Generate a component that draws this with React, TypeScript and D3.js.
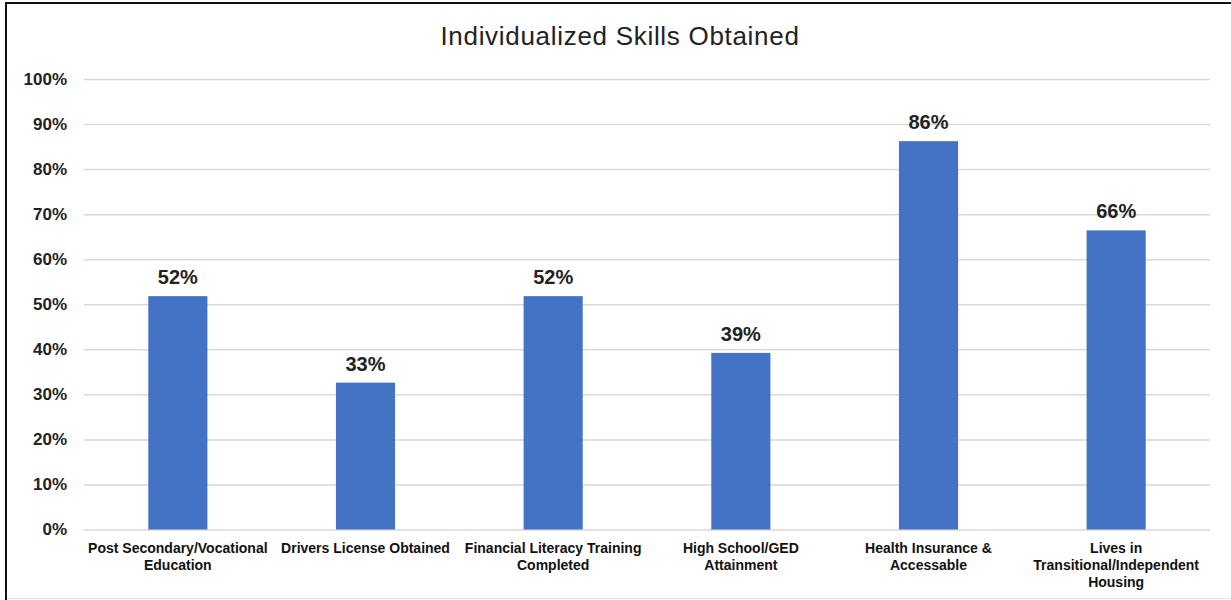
import * as d3 from "d3";
import React, { useEffect, useRef } from "react";

const categories = [
  ["Post Secondary/Vocational", "Education"],
  ["Drivers License Obtained"],
  ["Financial Literacy  Training", "Completed"],
  ["High School/GED", "Attainment"],
  ["Health Insurance &", "Accessable"],
  ["Lives in", "Transitional/Independent", "Housing"],
];
const values = [0.518, 0.326, 0.518, 0.392, 0.862, 0.664];
const yTicks = [0, 0.1, 0.2, 0.3, 0.4, 0.5, 0.6, 0.7, 0.8, 0.9, 1.0];

const W = 1231;
const H = 600;
const font = "'Liberation Sans', Arial, sans-serif";

export default function App() {
  const ref = useRef<SVGSVGElement | null>(null);

  useEffect(() => {
    const svg = d3.select(ref.current);
    svg.selectAll("*").remove();

    const x = d3
      .scaleBand()
      .domain(categories.map((_, i) => String(i)))
      .range([84, 1210])
      .paddingInner(0.685)
      .paddingOuter(0.3425);
    const y = d3.scaleLinear().domain([0, 1]).range([529.5, 79]);

    // frame
    svg.append("rect").attr("width", W).attr("height", H).attr("fill", "#fff");
    svg
      .append("path")
      .attr("d", `M6,600 V3 H${W}`)
      .attr("fill", "none")
      .attr("stroke", "#111")
      .attr("stroke-width", 2);
    svg
      .append("line")
      .attr("x1", 7)
      .attr("x2", W)
      .attr("y1", 598.5)
      .attr("y2", 598.5)
      .attr("stroke", "#e4e4e4");

    svg
      .append("text")
      .attr("x", 620)
      .attr("y", 45)
      .attr("text-anchor", "middle")
      .attr("font-family", font)
      .attr("font-size", 26)
      .attr("letter-spacing", 0.7)
      .attr("fill", "#222")
      .text("Individualized  Skills Obtained");

    // gridlines + y labels
    const yAxis = svg
      .append("g")
      .attr("transform", "translate(84,0)")
      .call(
        d3
          .axisLeft(y)
          .tickValues(yTicks)
          .tickSize(-(1210 - 84))
          .tickPadding(17)
          .tickFormat(d3.format(".0%"))
      );
    yAxis.select(".domain").remove();
    yAxis.selectAll("line").attr("stroke", "#d9d9d9").attr("stroke-width", 1.5);
    yAxis
      .selectAll("text")
      .attr("font-family", font)
      .attr("font-size", 17)
      .attr("font-weight", "bold")
      .attr("fill", "#222");

    // bars
    svg
      .append("g")
      .selectAll("rect")
      .data(values)
      .join("rect")
      .attr("x", (_, i) => x(String(i)))
      .attr("y", (d) => y(d))
      .attr("width", x.bandwidth())
      .attr("height", (d) => y(0) - y(d))
      .attr("fill", "#4472C4");

    svg
      .append("g")
      .selectAll("text")
      .data(values)
      .join("text")
      .attr("x", (_, i) => x(String(i)) + x.bandwidth() / 2)
      .attr("y", (d) => y(d) - 12)
      .attr("text-anchor", "middle")
      .attr("font-family", font)
      .attr("font-size", 20)
      .attr("font-weight", "bold")
      .attr("fill", "#222")
      .text((d) => d3.format(".0%")(d));

    // category labels
    const cat = svg
      .append("g")
      .selectAll("text")
      .data(categories)
      .join("text")
      .attr("x", (_, i) => x(String(i)) + x.bandwidth() / 2)
      .attr("y", 553)
      .attr("text-anchor", "middle")
      .attr("font-family", font)
      .attr("font-size", 14)
      .attr("font-weight", "bold")
      .attr("fill", "#111");
    cat
      .selectAll("tspan")
      .data((d) => d)
      .join("tspan")
      .attr("x", function () {
        return (this.parentNode as SVGTextElement).getAttribute("x");
      })
      .attr("dy", (_, j) => (j === 0 ? 0 : 17))
      .text((d) => d);
  }, []);

  return (
    <svg
      ref={ref}
      width={W}
      height={H}
      style={{ position: "absolute", left: 0, top: 0 }}
    />
  );
}
